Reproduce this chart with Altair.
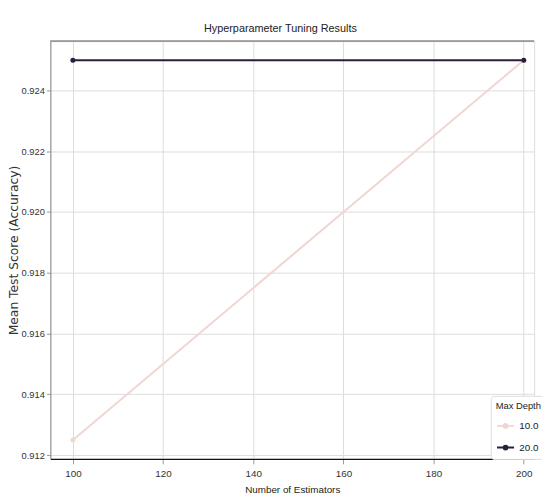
import altair as alt
import pandas as pd

n_estimators = [100, 200, 100, 200]
max_depth = ["10.0", "10.0", "20.0", "20.0"]
mean_score = [0.9125, 0.925, 0.925, 0.925]

df = pd.DataFrame({"n_estimators": n_estimators, "max_depth": max_depth, "score": mean_score})

x_ticks = [100, 120, 140, 160, 180, 200]
y_ticks = [0.912, 0.914, 0.916, 0.918, 0.920, 0.922, 0.924]

W, H = 491, 424
NARROW = "Liberation Sans Narrow, Liberation Sans, Arial, sans-serif"

color_scale = alt.Scale(domain=["10.0", "20.0"], range=["#efd6d1", "#2b1e3d"])

x_enc = alt.X("n_estimators:Q", title="Number of Estimators",
              scale=alt.Scale(domain=[95, 202.3], nice=False, zero=False),
              axis=alt.Axis(values=x_ticks, format="d", grid=True, gridColor="#dcdcdc",
                            domainColor="#111111", domainWidth=1.5, tickColor="#999999",
                            tickSize=5, labelFont=NARROW, labelFontSize=10, labelColor="#333333",
                            labelPadding=5, titleFont=NARROW, titleFontSize=10,
                            titleFontWeight="normal", titleColor="#222222", titlePadding=6))
y_enc = alt.Y("score:Q", title="Mean Test Score (Accuracy)",
              scale=alt.Scale(domain=[0.911875, 0.925625], nice=False, zero=False),
              axis=alt.Axis(values=y_ticks, format=".3f", grid=True, gridColor="#dcdcdc",
                            domainColor="#888888", tickColor="#999999", tickSize=4,
                            labelFont=NARROW, labelFontSize=9.5, labelColor="#333333",
                            labelPadding=2,
                            titleFont="DejaVu Sans", titleFontSize=12.5, titleFontWeight="normal",
                            titleColor="#333333", titlePadding=1))

legend_symbol = "M-1,0H1M-0.22,0A0.22,0.22,0,1,1,0.22,0A0.22,0.22,0,1,1,-0.22,0Z"

lines = alt.Chart(df).mark_line(strokeWidth=2).encode(
    x=x_enc, y=y_enc,
    color=alt.Color("max_depth:N", scale=color_scale, sort=["10.0", "20.0"],
                    legend=alt.Legend(title="Max Depth", orient="none", legendX=447, legendY=360,
                                      symbolType=legend_symbol, symbolSize=300, symbolStrokeWidth=2,
                                      titleFont=NARROW, titleFontSize=9.5, titleFontWeight="normal",
                                      titleColor="#222222", labelFont=NARROW, labelFontSize=10,
                                      labelColor="#222222", fillColor="white", strokeColor="#dddddd",
                                      cornerRadius=3, padding=5, rowPadding=6, titlePadding=6)),
)
points = alt.Chart(df).mark_point(filled=True, size=26, opacity=1).encode(
    x="n_estimators:Q", y="score:Q",
    color=alt.Color("max_depth:N", scale=color_scale, legend=None),
)
top_border = alt.Chart(df).mark_rule(color="#999999", strokeWidth=1).encode(
    x=alt.value(0), x2=alt.value(W), y=alt.value(0)
)

chart = alt.layer(lines, points, top_border).properties(
    width=W, height=H,
    title=alt.TitleParams("Hyperparameter Tuning Results", font=NARROW, fontSize=11,
                          fontWeight="normal", color="#222222", offset=7, dx=-12),
    autosize=alt.AutoSizeParams(type="none"),
    padding={"left": 43, "top": 30, "right": 8, "bottom": 33},
).configure_view(stroke=None).configure(background="white")

chart.save("out.html", embed_options={"renderer": "svg", "actions": False})
